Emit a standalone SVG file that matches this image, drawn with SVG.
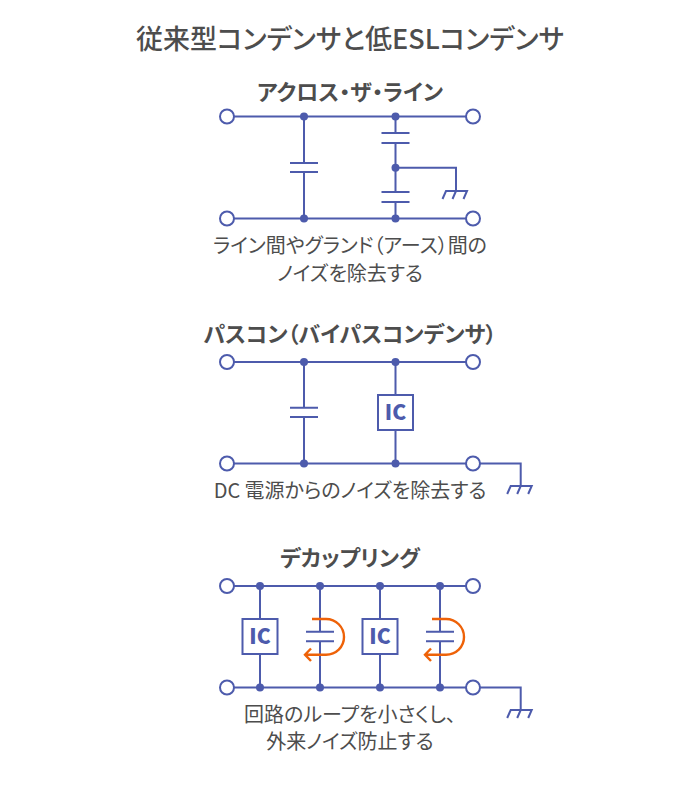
<svg xmlns="http://www.w3.org/2000/svg" width="700" height="800" viewBox="0 0 700 800">
<defs>
<style>
text{font-family:"Noto Sans CJK JP","Noto Sans",sans-serif;fill:#4d4d4d;text-anchor:middle;font-feature-settings:"palt"}
.t{font-size:27px;font-weight:500}
.h{font-size:22px;font-weight:700}
.b{font-size:20px;font-weight:400}
.w{fill:none;stroke:#4d5bac;stroke-width:2}
.term{fill:#fff;stroke:#4d5bac;stroke-width:2}
.dot{fill:#4d5bac}
.ic{fill:#fff;stroke:#4d5bac;stroke-width:2}
.ict{font-size:21px;font-weight:900;fill:#4d5bac}
.o{fill:none;stroke:#ee6208;stroke-width:2.400}
</style>
<g id="gnd"><path class="w" d="M-13.500 8L-10 0H11L7.500 8M0 0L-3.500 8"/></g>
</defs>
<text id="title" class="t" x="350" y="49">従来型コンデンサと低ESLコンデンサ</text>
<g id="connectors">
<path class="w" d="M234 116.500H466M234 218.500H466M304 116.500V163M304 172V218.500M290 163H318M290 172H318M395.500 116.500V133M395.500 143V192M395.500 202V218.500M381.500 133H409.500M381.500 143H409.500M381.500 192H409.500M381.500 202H409.500M395.500 167.700H456V191"/>
<use href="#gnd" x="456" y="191"/>
<path class="w" d="M234 362H466M234 463.500H466M304 362V407.700M304 417V463.500M290 407.700H318M290 417H318M395.500 362V395M395.500 430V463.500M480 463.500H520.700V486"/>
<use href="#gnd" x="520.700" y="486"/>
<path class="w" d="M234 586H466M234 687.500H466M260 586V619M260 655V687.500M320 586V631.700M320 641.300V687.500M306 631.700H334M306 641.300H334M380 586V619M380 655V687.500M440 586V631.700M440 641.300V687.500M426 631.700H454M426 641.300H454M480 687.500H520.700V710"/>
<use href="#gnd" x="520.700" y="710"/>
<path class="o" d="M312 619H326C336 619 344 627 344 637C344 647 336 654.700 326 654.700H305M311 648.500L305 654.700L311 661"/>
<path class="o" d="M432 619H446C456 619 464 627 464 637C464 647 456 654.700 446 654.700H425M431 648.500L425 654.700L431 661"/>
</g>
<g id="section1">
<text class="h" x="350" y="100">アクロス・ザ・ライン</text>
<circle class="term" cx="227" cy="116.500" r="7"/><circle class="term" cx="473" cy="116.500" r="7"/>
<circle class="term" cx="227" cy="218.500" r="7"/><circle class="term" cx="473" cy="218.500" r="7"/>
<circle class="dot" cx="304" cy="116.500" r="4"/><circle class="dot" cx="395.500" cy="116.500" r="4"/>
<circle class="dot" cx="395.500" cy="167.700" r="4"/>
<circle class="dot" cx="304" cy="218.500" r="4"/><circle class="dot" cx="395.500" cy="218.500" r="4"/>
<text class="b" x="350" y="253">ライン間やグランド（アース）間の</text>
<text class="b" x="350" y="281">ノイズを除去する</text>
</g>
<g id="section2">
<text class="h" x="350" y="342">パスコン（バイパスコンデンサ）</text>
<circle class="term" cx="227" cy="362" r="7"/><circle class="term" cx="473" cy="362" r="7"/>
<circle class="term" cx="227" cy="463.500" r="7"/><circle class="term" cx="473" cy="463.500" r="7"/>
<circle class="dot" cx="304" cy="362" r="4"/><circle class="dot" cx="395.500" cy="362" r="4"/>
<circle class="dot" cx="304" cy="463.500" r="4"/><circle class="dot" cx="395.500" cy="463.500" r="4"/>
<g id="ic1"><rect class="ic" x="378" y="395" width="35" height="35"/><text class="ict" x="395.500" y="420">IC</text></g>
<text class="b" x="350" y="498">DC 電源からのノイズを除去する</text>
</g>
<g id="section3">
<text class="h" x="350" y="566">デカップリング</text>
<circle class="term" cx="227" cy="586" r="7"/><circle class="term" cx="473" cy="586" r="7"/>
<circle class="term" cx="227" cy="687.500" r="7"/><circle class="term" cx="473" cy="687.500" r="7"/>
<circle class="dot" cx="260" cy="586" r="4"/><circle class="dot" cx="320" cy="586" r="4"/><circle class="dot" cx="380" cy="586" r="4"/><circle class="dot" cx="440" cy="586" r="4"/>
<circle class="dot" cx="260" cy="687.500" r="4"/><circle class="dot" cx="320" cy="687.500" r="4"/><circle class="dot" cx="380" cy="687.500" r="4"/><circle class="dot" cx="440" cy="687.500" r="4"/>
<g id="ic2"><rect class="ic" x="242.500" y="619" width="35" height="35"/><text class="ict" x="260" y="644">IC</text></g>
<g id="ic3"><rect class="ic" x="362.500" y="619" width="35" height="35"/><text class="ict" x="380" y="644">IC</text></g>
<text class="b" x="350" y="722">回路のループを小さくし、</text>
<text class="b" x="350" y="749">外来ノイズ防止する</text>
</g>
</svg>
